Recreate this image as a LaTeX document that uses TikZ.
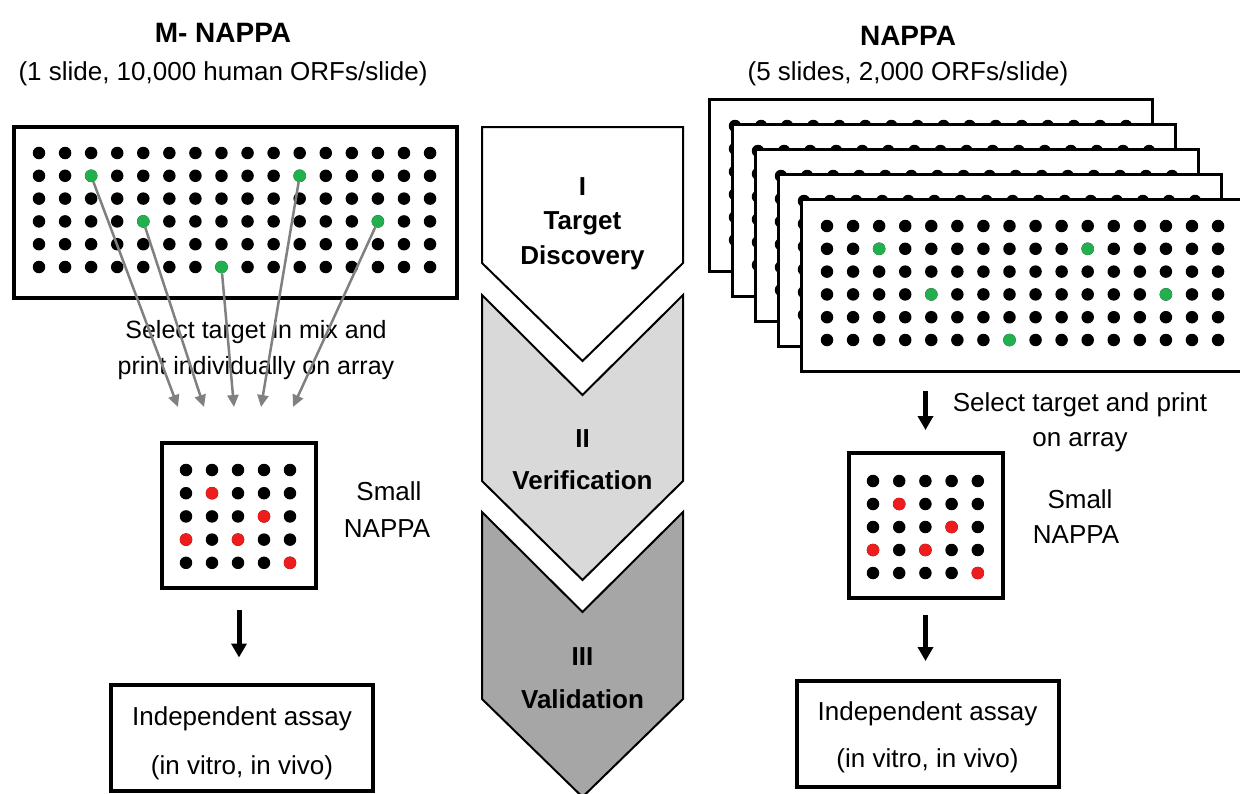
\documentclass[tikz,border=0pt]{standalone}
\usepackage{fontspec}
\setmainfont{Liberation Sans}
\usetikzlibrary{arrows.meta}
\definecolor{dotgreen}{HTML}{22B04E}
\definecolor{dotred}{HTML}{EE1C1C}
\definecolor{lightgr}{HTML}{D9D9D9}
\definecolor{darkgr}{HTML}{A6A6A6}
\definecolor{arrgray}{HTML}{808080}
\begin{document}
\begin{tikzpicture}[x=1pt,y=-1pt,
  dot/.style={circle,fill=black,inner sep=0pt,minimum size=12.5pt},
  gdot/.style={dot,fill=dotgreen},
  rdot/.style={dot,fill=dotred},
  bigbox/.style={draw,line width=4pt,fill=white,minimum width=443pt,minimum height=171pt,inner sep=0pt,anchor=north west},
  slidebox/.style={draw,line width=3pt,fill=white,minimum width=443pt,minimum height=172pt,inner sep=0pt,anchor=north west},
  smallbox/.style={draw,line width=4pt,minimum width=154pt,minimum height=145pt,inner sep=0pt},
  assaybox/.style={draw,line width=4pt,minimum width=262pt,minimum height=106pt,inner sep=0pt},
  ttl/.style={font=\fontsize{28}{32}\selectfont\bfseries,anchor=base,inner sep=0pt},
  txt/.style={font=\fontsize{26}{30}\selectfont,anchor=base,inner sep=0pt},
  lbl/.style={font=\fontsize{25}{30}\selectfont,anchor=base,inner sep=0pt},
  chev/.style={font=\fontsize{26}{30}\selectfont\bfseries,anchor=base,inner sep=0pt},
  chevshape/.style={draw,line width=2pt,line join=miter},
  garrow/.style={draw=arrgray,line width=2.5pt,-{Triangle[length=12pt,width=11pt]}},
  barrow/.style={draw,line width=5pt,-{Triangle[length=14pt,width=15pt]}}
]
\useasboundingbox (0,0) rectangle (1240,793);
\clip (0,0) rectangle (1240,793);

% ---------------- left: M-NAPPA ----------------
\node[ttl] (lhead) at (223,42) {M- NAPPA};
\node[txt] (lsub) at (223,80) {(1 slide, 10,000 human ORFs/slide)};
\node[bigbox] (larray) at (12,125) {};
\foreach \r in {0,...,5}{
  \foreach \c in {0,...,15}{
    \node[dot] (L-\r-\c) at ({39+26.07*\c},{153+22.8*\r}) {};
  }
}
\node[gdot] (G1) at (L-1-2) {};
\node[gdot] (G2) at (L-3-4) {};
\node[gdot] (G3) at (L-5-7) {};
\node[gdot] (G4) at (L-1-10) {};
\node[gdot] (G5) at (L-3-13) {};

\node[lbl] (lsel1) at (256,338) {Select target in mix and};
\node[lbl] (lsel2) at (256,374) {print individually on array};

\coordinate (ta1) at (178,407);
\coordinate (ta2) at (204,407);
\coordinate (ta3) at (234,407);
\coordinate (ta4) at (261,407);
\coordinate (ta5) at (293,407);
\draw[garrow] (G1) -- (ta1);
\draw[garrow] (G2) -- (ta2);
\draw[garrow] (G3) -- (ta3);
\draw[garrow] (G4) -- (ta4);
\draw[garrow] (G5) -- (ta5);

\node[smallbox] (lsmall) at (239,515.5) {};
\foreach \r in {0,...,4}{
  \foreach \c in {0,...,4}{
    \node[dot] (LS-\r-\c) at ({186+26*\c},{470+23.2*\r}) {};
  }
}
\node[rdot] at (LS-1-1) {};
\node[rdot] at (LS-2-3) {};
\node[rdot] at (LS-3-0) {};
\node[rdot] at (LS-3-2) {};
\node[rdot] at (LS-4-4) {};
\node[txt] (lsl1) at (389,500) {Small};
\node[txt] (lsl2) at (387,537) {NAPPA};

\node[assaybox] (lassay) at (242,737.5) {};
\node[txt] (la1) at (242,725) {Independent assay};
\node[txt] (la2) at (242,774) {(in vitro, in vivo)};
\draw[barrow,shorten <=20pt,shorten >=25pt] (lsmall.south) -- (lsmall.south |- lassay.north);

% ---------------- centre: chevrons ----------------
\draw[chevshape,fill=white] (482,127) -- (683,127) -- (683,263) -- (582.5,361) -- (482,263) -- cycle;
\draw[chevshape,fill=lightgr] (482,295) -- (582.5,395) -- (683,295) -- (683,481) -- (582.5,580) -- (482,481) -- cycle;
\draw[chevshape,fill=darkgr] (482,512) -- (582.5,612) -- (683,512) -- (683,699) -- (582.5,797) -- (482,699) -- cycle;
\node[chev] (c1a) at (582.5,195) {I};
\node[chev] (c1b) at (582.5,229) {Target};
\node[chev] (c1c) at (582.5,264) {Discovery};
\node[chev] (c2a) at (582.5,447) {II};
\node[chev] (c2b) at (582.5,489) {Verification};
\node[chev] (c3a) at (582.5,665) {III};
\node[chev] (c3b) at (582.5,708) {Validation};

% ---------------- right: NAPPA ----------------
\node[ttl] (rhead) at (908,45) {NAPPA};
\node[txt] (rsub) at (908,80) {(5 slides, 2,000 ORFs/slide)};
\foreach \k in {0,...,4}{
  \pgfmathsetmacro{\sx}{708+23*\k}
  \pgfmathsetmacro{\sy}{98+25*\k}
  \node[slidebox] (S\k) at (\sx,\sy) {};
  \foreach \r in {0,...,5}{
    \foreach \c in {0,...,15}{
      \node[dot] (R\k-\r-\c) at ({\sx+27+26.07*\c},{\sy+28+22.8*\r}) {};
    }
  }
}
\node[gdot] at (R4-1-2) {};
\node[gdot] at (R4-3-4) {};
\node[gdot] at (R4-5-7) {};
\node[gdot] at (R4-1-10) {};
\node[gdot] at (R4-3-13) {};

\node[txt] (rsel1) at (1080,411) {Select target and print};
\node[txt] (rsel2) at (1080,446) {on array};

\node[smallbox] (rsmall) at (925.5,525.5) {};
\foreach \r in {0,...,4}{
  \foreach \c in {0,...,4}{
    \node[dot] (RS-\r-\c) at ({873+26.2*\c},{481+23*\r}) {};
  }
}
\node[rdot] at (RS-1-1) {};
\node[rdot] at (RS-2-3) {};
\node[rdot] at (RS-3-0) {};
\node[rdot] at (RS-3-2) {};
\node[rdot] at (RS-4-4) {};
\node[txt] (rsl1) at (1080,508) {Small};
\node[txt] (rsl2) at (1076,543) {NAPPA};

\node[assaybox] (rassay) at (927.5,734) {};
\node[txt] (ra1) at (927.5,720) {Independent assay};
\node[txt] (ra2) at (927.5,767) {(in vitro, in vivo)};

\draw[barrow,shorten <=18pt,shorten >=21pt] (S4.south -| rsmall.north) -- (rsmall.north);
\draw[barrow,shorten <=15pt,shorten >=18pt] (rsmall.south) -- (rsmall.south |- rassay.north);
\end{tikzpicture}
\end{document}
